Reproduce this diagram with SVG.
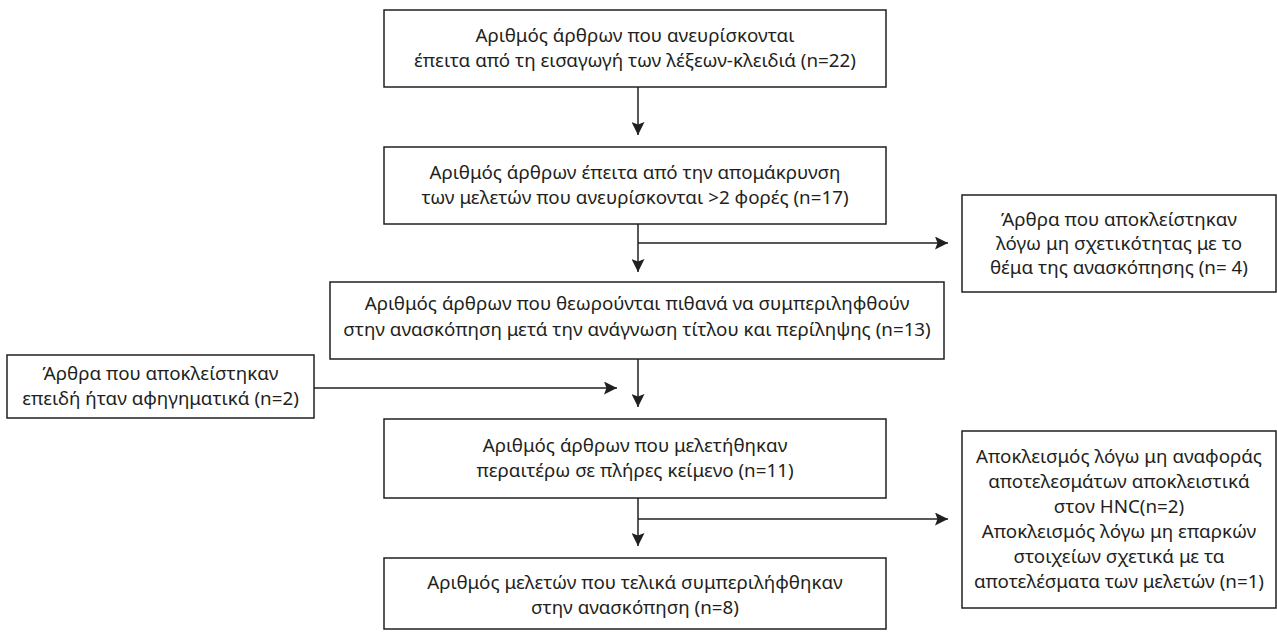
<svg xmlns="http://www.w3.org/2000/svg" width="1277" height="632" viewBox="0 0 1277 632">
<style>
.box{fill:#fff;stroke:#231f20;stroke-width:1.5}
.t{font-family:"Noto Sans","Open Sans","Liberation Sans",sans-serif;font-size:18.8px;fill:#231f20;text-anchor:middle}
.c{fill:none;stroke:#231f20;stroke-width:1.5}
</style>
<defs>
<marker id="ah" markerUnits="userSpaceOnUse" markerWidth="13" markerHeight="13" refX="13" refY="6.5" orient="auto" viewBox="0 0 13 13">
<path d="M0,0 L13,6.5 L0,13 L2.5,6.5 Z" fill="#231f20"/>
</marker>
</defs>
<rect width="1277" height="632" fill="#fff"/>
<g id="connectors">
<path class="c" d="M638,87 V135" marker-end="url(#ah)"/>
<path class="c" d="M638,224 V272" marker-end="url(#ah)"/>
<path class="c" d="M638,243 H948" marker-end="url(#ah)"/>
<path class="c" d="M638,359 V407" marker-end="url(#ah)"/>
<path class="c" d="M314,388 H617" marker-end="url(#ah)"/>
<path class="c" d="M638,498 V546" marker-end="url(#ah)"/>
<path class="c" d="M638,519 H948" marker-end="url(#ah)"/>
</g>
<g id="n1">
<rect class="box" x="384" y="10" width="502" height="77"/>
<text class="t" x="635" y="42">Αριθμός άρθρων που ανευρίσκονται</text>
<text class="t" x="635" y="67">έπειτα από τη εισαγωγή των λέξεων-κλειδιά (n=22)</text>
</g>
<g id="n2">
<rect class="box" x="384" y="147" width="502" height="77"/>
<text class="t" x="635" y="179">Αριθμός άρθρων έπειτα από την απομάκρυνση</text>
<text class="t" x="635" y="204">των μελετών που ανευρίσκονται &gt;2 φορές (n=17)</text>
</g>
<g id="n3">
<rect class="box" x="962" y="195" width="314" height="97"/>
<text class="t" x="1119" y="226">Άρθρα που αποκλείστηκαν</text>
<text class="t" x="1119" y="250">λόγω μη σχετικότητας με το</text>
<text class="t" x="1119" y="274">θέμα της ανασκόπησης (n= 4)</text>
</g>
<g id="n4">
<rect class="box" x="330" y="282" width="614" height="77"/>
<text class="t" x="637" y="310">Αριθμός άρθρων που θεωρούνται πιθανά να συμπεριληφθούν</text>
<text class="t" x="637" y="336">στην ανασκόπηση μετά την ανάγνωση τίτλου και περίληψης (n=13)</text>
</g>
<g id="n5">
<rect class="box" x="7" y="355" width="307" height="63"/>
<text class="t" x="160.5" y="380">Άρθρα που αποκλείστηκαν</text>
<text class="t" x="160.5" y="405">επειδή ήταν αφηγηματικά (n=2)</text>
</g>
<g id="n6">
<rect class="box" x="384" y="419" width="502" height="79"/>
<text class="t" x="635" y="452">Αριθμός άρθρων που μελετήθηκαν</text>
<text class="t" x="635" y="477">περαιτέρω σε πλήρες κείμενο (n=11)</text>
</g>
<g id="n7">
<rect class="box" x="962" y="431" width="314" height="177"/>
<text class="t" x="1119" y="463">Αποκλεισμός λόγω μη αναφοράς</text>
<text class="t" x="1119" y="488">αποτελεσμάτων αποκλειστικά</text>
<text class="t" x="1119" y="513">στον HNC(n=2)</text>
<text class="t" x="1119" y="538">Αποκλεισμός λόγω μη επαρκών</text>
<text class="t" x="1119" y="563">στοιχείων σχετικά με τα</text>
<text class="t" x="1119" y="588">αποτελέσματα των μελετών (n=1)</text>
</g>
<g id="n8">
<rect class="box" x="384" y="558" width="502" height="71"/>
<text class="t" x="635" y="589">Αριθμός μελετών που τελικά συμπεριλήφθηκαν</text>
<text class="t" x="635" y="614">στην ανασκόπηση (n=8)</text>
</g>
</svg>
